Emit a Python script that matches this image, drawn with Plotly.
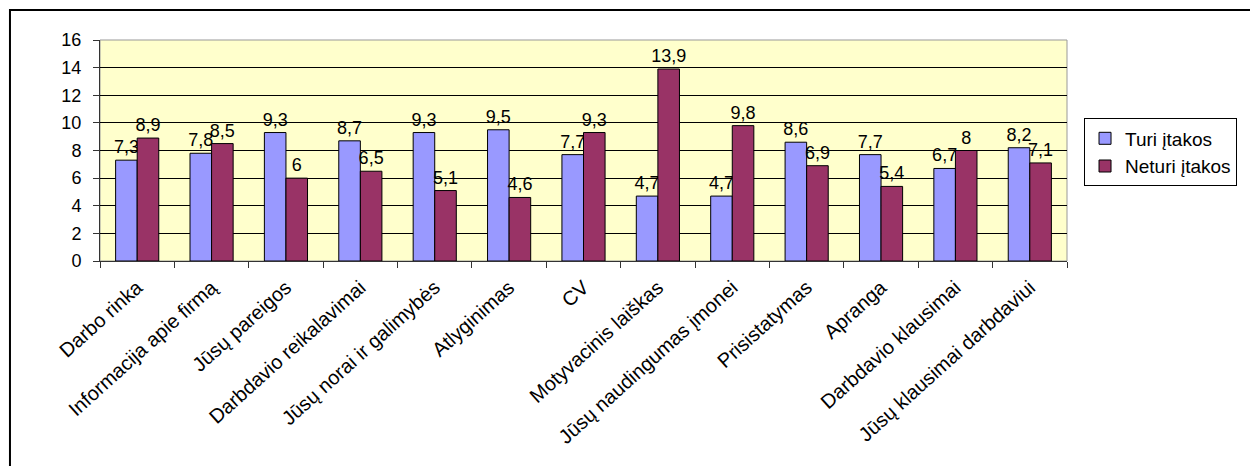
import plotly.graph_objects as go

categories = ["Darbo rinka", "Informacija apie firmą", "Jūsų pareigos", "Darbdavio reikalavimai",
              "Jūsų norai ir galimybės", "Atlyginimas", "CV", "Motyvacinis laiškas",
              "Jūsų naudingumas įmonei", "Prisistatymas", "Apranga", "Darbdavio klausimai",
              "Jūsų klausimai darbdaviui"]
turi = [7.3, 7.8, 9.3, 8.7, 9.3, 9.5, 7.7, 4.7, 4.7, 8.6, 7.7, 6.7, 8.2]
neturi = [8.9, 8.5, 6, 6.5, 5.1, 4.6, 9.3, 13.9, 9.8, 6.9, 5.4, 8, 7.1]

def fmt(v):
    return ("%g" % v).replace(".", ",")

FONT = "Liberation Sans, Arial, sans-serif"

fig = go.Figure()
fig.add_trace(go.Bar(name="Turi įtakos", x=categories, y=turi,
                     text=[fmt(v) for v in turi], textposition="outside",
                     marker=dict(color="#9999FF", line=dict(color="#000000", width=1))))
fig.add_trace(go.Bar(name="Neturi įtakos", x=categories, y=neturi,
                     text=[fmt(v) for v in neturi], textposition="outside",
                     marker=dict(color="#993366", line=dict(color="#000000", width=1))))
fig.update_traces(textfont=dict(size=18, color="black", family=FONT), cliponaxis=False,
                  constraintext="none")

fig.update_layout(
    width=1250, height=466,
    margin=dict(l=100, r=183, t=40, b=205, autoexpand=False),
    paper_bgcolor="white", plot_bgcolor="#FFFFCC",
    barmode="group", bargap=0.42, bargroupgap=0,
    font=dict(family=FONT, size=18, color="black"),
    legend=dict(x=1.0176, y=0.645, xanchor="left", yanchor="top",
                bordercolor="black", borderwidth=1, bgcolor="white",
                font=dict(size=19), tracegroupgap=0, itemwidth=30),
    xaxis=dict(tickangle=-42, ticks="outside", tickson="boundaries", ticklen=6,
               tickcolor="#333333", showline=True, linecolor="#333333", linewidth=1,
               showgrid=False, tickfont=dict(size=20), automargin=False,
               ticklabelstandoff=6),
    yaxis=dict(range=[0, 16], dtick=2, ticks="outside", ticklen=6, tickcolor="#333333",
               showline=True, linecolor="#333333", linewidth=1,
               showgrid=True, gridcolor="black", gridwidth=1, zeroline=False,
               tickfont=dict(size=18), automargin=False, ticklabelstandoff=8),
    shapes=[
        dict(type="rect", xref="paper", yref="paper", x0=0, x1=1, y0=0, y1=1,
             line=dict(color="#999999", width=1), layer="below"),
        dict(type="rect", xref="paper", yref="paper", x0=-0.0931, x1=1.21, y0=-1.05, y1=1.1357,
             line=dict(color="black", width=2)),
    ],
)

fig.write_html("out.html")
